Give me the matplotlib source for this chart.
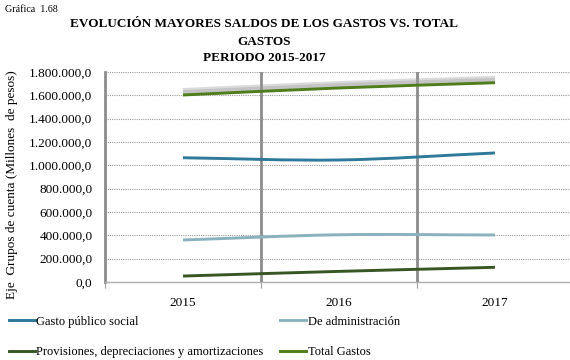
import matplotlib
matplotlib.use("Agg")
import matplotlib.pyplot as plt
import numpy as np
from matplotlib.path import Path
from matplotlib.patches import PathPatch
from matplotlib.lines import Line2D
import matplotlib.patheffects as pe
from matplotlib.ticker import FuncFormatter, FixedLocator

years = ["2015", "2016", "2017"]
gasto_publico_social = [1065000, 1046000, 1106000]
de_administracion = [360000, 405000, 403000]
provisiones = [51000, 91000, 126000]
total_gastos = [1603000, 1663000, 1708000]

series_names = ["Gasto público social", "De administración",
                "Provisiones, depreciaciones y amortizaciones", "Total Gastos"]
series_values = [gasto_publico_social, de_administracion, provisiones, total_gastos]
series_colors = ["#2E7899", "#8AB2BE", "#375623", "#4F7D1C"]

yticks = list(range(0, 1800001, 200000))

plt.rcParams['font.family'] = ['Liberation Serif', 'DejaVu Serif']

fig = plt.figure(figsize=(5.7, 3.6), dpi=100)
ax = fig.add_axes([105/570, 78/360, 468/570, 210/360])


def smooth_path(xs, ys):
    xs = np.asarray(xs, float)
    ys = np.asarray(ys, float)
    n = len(xs)
    verts = [(xs[0], ys[0])]
    codes = [Path.MOVETO]
    tx = np.zeros(n)
    ty = np.zeros(n)
    for i in range(n):
        a = max(i - 1, 0)
        b = min(i + 1, n - 1)
        tx[i] = (xs[b] - xs[a]) / 6.0 * (2 if (i == 0 or i == n - 1) else 1)
        ty[i] = (ys[b] - ys[a]) / 6.0 * (2 if (i == 0 or i == n - 1) else 1)
    for i in range(n - 1):
        verts.append((xs[i] + tx[i], ys[i] + ty[i]))
        verts.append((xs[i + 1] - tx[i + 1], ys[i + 1] - ty[i + 1]))
        verts.append((xs[i + 1], ys[i + 1]))
        codes += [Path.CURVE4] * 3
    return Path(verts, codes)


x = np.arange(len(years))
for name, vals, col in zip(series_names, series_values, series_colors):
    effects = []
    if name == "Total Gastos":
        effects = [pe.SimpleLineShadow(offset=(0, 2.5), shadow_color="#9a9a9a", alpha=0.35, linewidth=5),
                   pe.SimpleLineShadow(offset=(0, 2.0), shadow_color="#9a9a9a", alpha=0.35, linewidth=3),
                   pe.Normal()]
    patch = PathPatch(smooth_path(x, vals), facecolor="none", edgecolor=col,
                      lw=2.1, capstyle="butt", zorder=4, path_effects=effects)
    ax.add_patch(patch)

ax.set_xlim(-0.5, 2.5)
ax.set_ylim(0, 1800000)
ax.set_yticks(yticks)
ax.yaxis.set_major_formatter(FuncFormatter(
    lambda v, p: "{:,.1f}".format(v).replace(",", "X").replace(".", ",").replace("X", ".")))
ax.set_xticks(x)
ax.set_xticklabels(years)
ax.xaxis.set_minor_locator(FixedLocator([-0.5, 0.5, 1.5, 2.5]))
ax.tick_params(axis="x", which="major", length=0, pad=11, labelsize=9.5)
ax.tick_params(axis="x", which="minor", length=4, color="#a0a0a0", width=0.8)
ax.tick_params(axis="y", length=0, pad=9, labelsize=9.5)

ax.grid(axis="y", linestyle=(0, (1, 1)), color="#9a9a9a", linewidth=0.8)
ax.set_axisbelow(True)
for b in [0.5, 1.5]:
    ax.axvline(b, color="#8c8c8c", lw=2.0, zorder=3)

for s in ["top", "right"]:
    ax.spines[s].set_visible(False)
ax.spines["left"].set_color("#8c8c8c")
ax.spines["left"].set_linewidth(2.0)
ax.spines["bottom"].set_color("#b0b0b0")
ax.spines["bottom"].set_linewidth(1.0)

fig.text(5/570, 1 - 10/360, "Gráfica  1.68", fontsize=7.2, ha="left", va="center")
fig.text(264/570, 1 - 24/360, "EVOLUCIÓN MAYORES SALDOS DE LOS GASTOS VS. TOTAL",
         fontsize=9.5, fontweight="bold", ha="center", va="center")
fig.text(264/570, 1 - 42/360, "GASTOS", fontsize=9.5, fontweight="bold", ha="center", va="center")
fig.text(264/570, 1 - 58/360, "PERIODO 2015-2017", fontsize=9.5, fontweight="bold", ha="center", va="center")

fig.text(12/570, 1 - 185/360, "Eje  Grupos de cuenta (Millones  de pesos)", rotation=90,
         fontsize=9.5, ha="center", va="center")

handles = [Line2D([], [], color=c, lw=2.1) for c in series_colors]
leg_kw = dict(frameon=False, fontsize=9, handlelength=2.1, handletextpad=0.1,
              labelspacing=1.5, borderaxespad=0, borderpad=0, loc="center left")
leg1 = fig.legend([handles[0], handles[2]], [series_names[0], series_names[2]],
                  bbox_to_anchor=(9/570, 1 - 337/360), **leg_kw)
leg2 = fig.legend([handles[1], handles[3]], [series_names[1], series_names[3]],
                  bbox_to_anchor=(280/570, 1 - 337/360), **leg_kw)

fig.savefig("out.png", dpi=100)
